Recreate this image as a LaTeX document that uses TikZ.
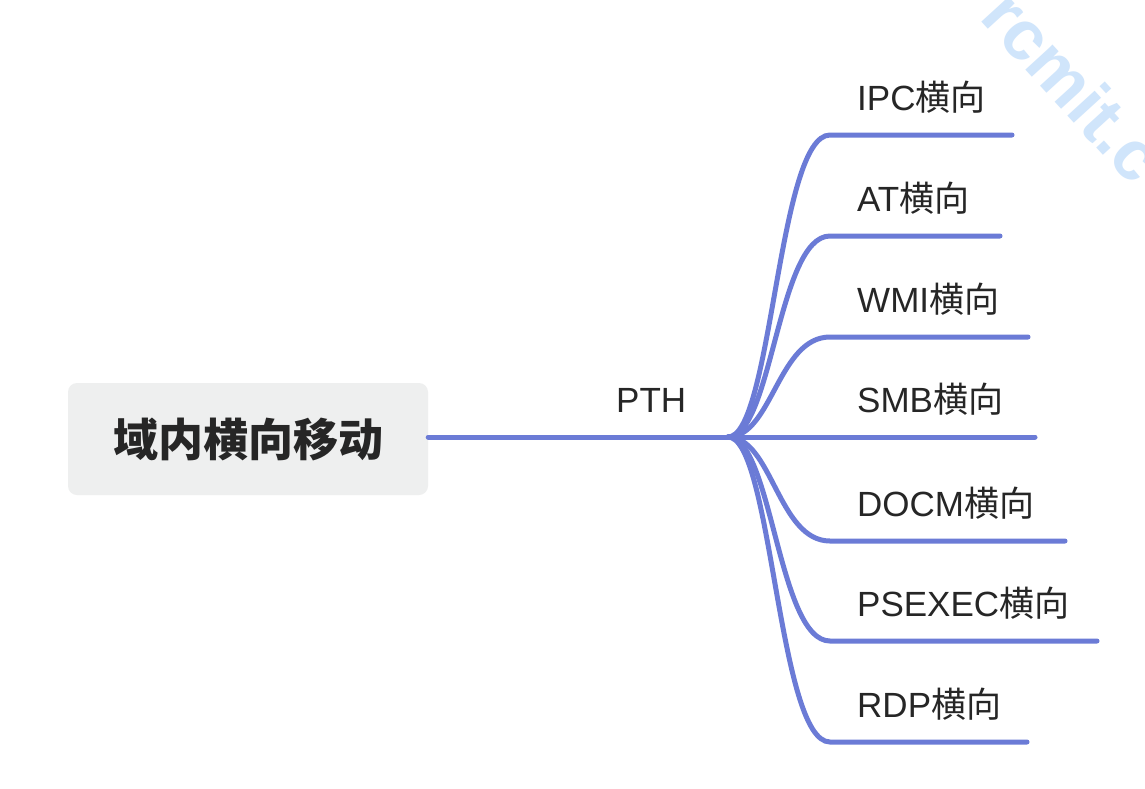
\documentclass[tikz,border=0pt]{standalone}
\usepackage{fontspec}
\setmainfont{Liberation Sans}
\newfontfamily\cjkfont{Noto Sans CJK SC}
\definecolor{branch}{HTML}{6B7BD6}
\definecolor{rootfill}{HTML}{EEEFEF}
\definecolor{txt}{HTML}{262626}
\definecolor{wmark}{HTML}{D0E5FB}
\newcommand\hxtext{{\cjkfont 横向}}
\tikzset{
  x=1pt, y=-1pt,
  rootbox/.style={fill=rootfill, rounded corners=9pt, minimum width=360pt, minimum height=112pt,
    inner sep=0pt, text=txt, font=\fontsize{45}{50}\selectfont\cjkfont\bfseries},
  leaflabel/.style={anchor=base west, inner sep=0pt, text=txt, font=\fontsize{35}{40}\selectfont},
  conn/.style={draw=branch, line width=5pt, line cap=round},
}
\begin{document}
\begin{tikzpicture}
\useasboundingbox (0,0) rectangle (1145,788);
\fill[white] (0,0) rectangle (1145,788);
% watermark
\node[anchor=base west, rotate=-47.6, inner sep=0pt, text=wmark, font=\fontsize{70}{76}\selectfont\bfseries] (wm) at (978,18) {rcmit.c};
% root
\node[rootbox] (root) at (248,439) {域内横向移动};
\coordinate (jn) at (728,437);
\node[leaflabel] (pth) at (616,412) {PTH};
\draw[conn] (root.east |- jn) -- (jn);
% leaves
\foreach \i/\y/\e/\t in {1/135/1012/IPC, 2/236/1000/AT, 3/337/1028/WMI, 5/541/1065/DOCM, 6/641/1097/PSEXEC, 7/742/1027/RDP}{
  \coordinate (s\i) at (830,\y);
  \coordinate (e\i) at (\e,\y);
  \node[leaflabel] (l\i) at (857,\y-25) {\t\hxtext};
  \draw[conn] (jn) .. controls (772,437) and (778,\y) .. (s\i) -- (e\i);
}
\coordinate (e4) at (1035,437);
\node[leaflabel] (l4) at (857,412) {SMB\hxtext};
\draw[conn] (jn) -- (e4);
\end{tikzpicture}
\end{document}
